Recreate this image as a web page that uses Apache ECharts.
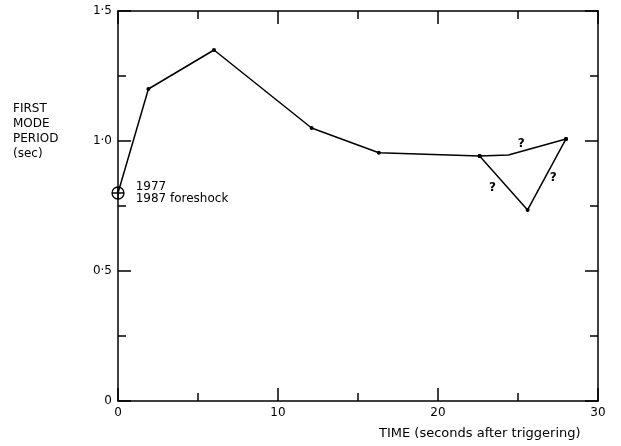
<!DOCTYPE html>
<html>
<head>
<meta charset="utf-8">
<script src="https://cdn.jsdelivr.net/npm/echarts@6/dist/echarts.min.js"></script>
<style>
  html, body { margin: 0; padding: 0; background: #fff; }
  #chart { width: 621px; height: 446px; }
</style>
</head>
<body>
<div id="chart"></div>
<script>
// data
var mainTime   = [0, 1.9, 6.0, 12.1, 16.3, 22.6, 24.4, 28.0];
var mainPeriod = [0.80, 1.20, 1.35, 1.05, 0.955, 0.942, 0.946, 1.008];
var mainDot    = [false, true, true, true, true, true, false, true]; // bend at 24.4 has no dot
var altTime    = [22.6, 25.6, 28.0];
var altPeriod  = [0.942, 0.735, 1.008];
var quakeTime  = [0];
var quakePeriod = [0.80];
var quakeLabel = '1977\n1987 foreshock';
var queryTime   = [25.2, 23.4, 27.2];
var queryPeriod = [0.99, 0.82, 0.86];
var xTicks = [0, 10, 20, 30];
var yTicks = [0, 0.5, 1.0, 1.5];

var ink = '#000';
var font = 'DejaVu Sans';

function pairs(xs, ys) {
    return xs.map(function (x, i) { return [x, ys[i]]; });
}

var chart = echarts.init(document.getElementById('chart'));

// 轴的公共样式（四边都有朝内的刻度）
function axisBase(show) {
    return {
        axisLine: { show: true, onZero: false, lineStyle: { color: ink, width: 1.5 } },
        axisTick: { show: true, inside: true, length: 13, lineStyle: { color: ink, width: 1.5 } },
        minorTick: { show: true, splitNumber: 2, length: 8, lineStyle: { color: ink, width: 1.5 } },
        splitLine: { show: false },
        axisLabel: { show: show, color: ink, fontFamily: font, fontSize: 12 }
    };
}

var xBottom = Object.assign(axisBase(true), {
    type: 'value', position: 'bottom', min: xTicks[0], max: xTicks[xTicks.length - 1], interval: 10
});
xBottom.axisLabel.margin = 6;
var xTop = Object.assign(axisBase(false), {
    type: 'value', position: 'top', min: xTicks[0], max: xTicks[xTicks.length - 1], interval: 10
});
var yLeft = Object.assign(axisBase(true), {
    type: 'value', position: 'left', min: yTicks[0], max: yTicks[yTicks.length - 1], interval: 0.5
});
yLeft.axisLabel.margin = 6;
yLeft.axisLabel.formatter = function (v) { return v === 0 ? '0' : v.toFixed(1).replace('.', '·'); };
var yRight = Object.assign(axisBase(false), {
    type: 'value', position: 'right', min: yTicks[0], max: yTicks[yTicks.length - 1], interval: 0.5
});

var option = {
    animation: false,
    backgroundColor: '#fff',
    grid: { left: 118, right: 23, top: 11, bottom: 45 },
    xAxis: [xBottom, xTop],
    yAxis: [yLeft, yRight],
    graphic: [
        { type: 'text', left: 13, top: 101,
          style: { text: 'FIRST\nMODE\nPERIOD\n(sec)', fill: ink, font: '12px "DejaVu Sans"', lineHeight: 15 } },
        { type: 'text', left: 379, top: 427,
          style: { text: 'TIME (seconds after triggering)', fill: ink, font: '13px "DejaVu Sans"' } }
    ],
    series: [
        {
            type: 'line',
            data: pairs(mainTime, mainPeriod).map(function (p, i) {
                return { value: p, symbolSize: mainDot[i] ? 4 : 0 };
            }),
            symbol: 'circle',
            showAllSymbol: true,
            lineStyle: { color: ink, width: 1.5 },
            itemStyle: { color: ink }
        },
        {
            type: 'line',
            data: pairs(altTime, altPeriod),
            symbol: 'circle',
            symbolSize: 4,
            lineStyle: { color: ink, width: 1.5 },
            itemStyle: { color: ink }
        },
        {
            type: 'scatter',
            data: pairs(quakeTime, quakePeriod),
            symbol: 'path://M0,-10A10,10 0 1,1 0,10A10,10 0 1,1 0,-10ZM-10,0L10,0M0,-10L0,10',
            symbolSize: 12,
            itemStyle: { color: 'rgba(0,0,0,0)', borderColor: ink, borderWidth: 1.3, opacity: 1 },
            label: {
                show: true, position: 'right', distance: 11, formatter: quakeLabel,
                color: ink, fontFamily: font, fontSize: 12, lineHeight: 12, align: 'left'
            },
            z: 5
        },
        {
            type: 'scatter',
            data: pairs(queryTime, queryPeriod),
            symbolSize: 0,
            itemStyle: { opacity: 1 },
            label: {
                show: true, position: 'inside', formatter: '?',
                color: ink, fontFamily: font, fontSize: 12, fontWeight: 'bold'
            }
        }
    ]
};

chart.setOption(option);
</script>
</body>
</html>
